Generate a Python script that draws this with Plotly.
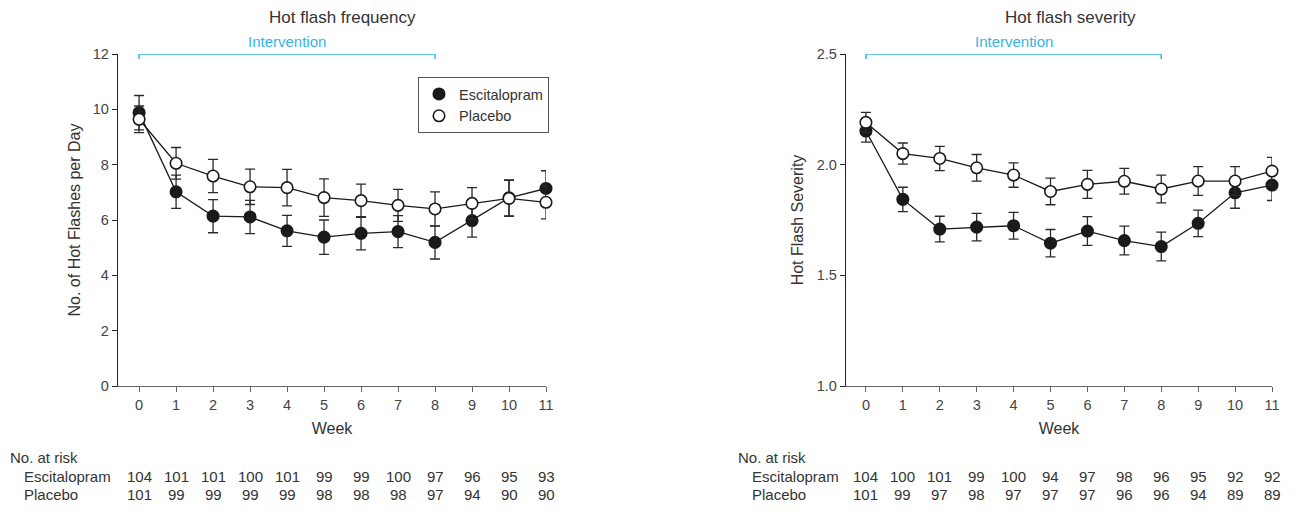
import plotly.graph_objects as go

# ---------------- data ----------------
weeks = list(range(12))
week_labels = [str(w) for w in weeks]

freq_esc = [9.88, 7.02, 6.14, 6.11, 5.61, 5.38, 5.52, 5.58, 5.19, 5.98, 6.80, 7.14]
freq_esc_err = [0.62, 0.60, 0.60, 0.60, 0.56, 0.62, 0.60, 0.58, 0.60, 0.60, 0.65, 0.64]
freq_pla = [9.64, 8.05, 7.59, 7.20, 7.17, 6.81, 6.70, 6.53, 6.40, 6.60, 6.78, 6.64]
freq_pla_err = [0.48, 0.57, 0.60, 0.64, 0.66, 0.68, 0.60, 0.58, 0.62, 0.57, 0.65, 0.60]

sev_esc = [2.152, 1.843, 1.709, 1.718, 1.724, 1.645, 1.700, 1.657, 1.630, 1.735, 1.873, 1.908]
sev_esc_err = [0.050, 0.055, 0.058, 0.062, 0.060, 0.062, 0.065, 0.065, 0.065, 0.060, 0.070, 0.070]
sev_pla = [2.191, 2.050, 2.028, 1.986, 1.953, 1.879, 1.911, 1.925, 1.890, 1.926, 1.926, 1.971]
sev_pla_err = [0.045, 0.048, 0.055, 0.060, 0.055, 0.060, 0.063, 0.058, 0.063, 0.065, 0.065, 0.062]

risk_freq_esc = [104, 101, 101, 100, 101, 99, 99, 100, 97, 96, 95, 93]
risk_freq_pla = [101, 99, 99, 99, 99, 98, 98, 98, 97, 94, 90, 90]
risk_sev_esc = [104, 100, 101, 99, 100, 94, 97, 98, 96, 95, 92, 92]
risk_sev_pla = [101, 99, 97, 98, 97, 97, 97, 96, 96, 94, 89, 89]

intervention = [0, 8]
freq_ticks = [0, 2, 4, 6, 8, 10, 12]
sev_ticks = [1.0, 1.5, 2.0, 2.5]

# ---------------- style ----------------
FONT = "Liberation Sans, Arial, sans-serif"
TXT = "#333333"
BLUE = "#35b5e8"
W, H = 1297, 514

def px_x(p):
    return p / W

def px_y(p):
    return 1 - p / H

fig = go.Figure()

def add_series(x_ax, y_ax, vals, errs, filled):
    fig.add_trace(go.Scatter(
        x=weeks, y=vals, xaxis=x_ax, yaxis=y_ax,
        mode="lines+markers", showlegend=False, cliponaxis=False,
        line=dict(color="#1a1a1a", width=1.3),
        marker=dict(size=11.5, color="#1a1a1a" if filled else "white",
                    line=dict(color="#1a1a1a", width=1.6)),
        error_y=dict(type="data", array=errs, visible=True,
                     color="#2a2a2a", thickness=1.3, width=5),
    ))

add_series("x", "y", freq_esc, freq_esc_err, True)
add_series("x", "y", freq_pla, freq_pla_err, False)
add_series("x2", "y2", sev_esc, sev_esc_err, True)
add_series("x2", "y2", sev_pla, sev_pla_err, False)

# legend-only traces
fig.add_trace(go.Scatter(x=[None], y=[None], mode="markers", name="Escitalopram",
                         marker=dict(size=11.5, color="#1a1a1a", line=dict(color="#1a1a1a", width=1.6))))
fig.add_trace(go.Scatter(x=[None], y=[None], mode="markers", name="Placebo",
                         marker=dict(size=11.5, color="white", line=dict(color="#1a1a1a", width=1.6))))

axis_common = dict(showgrid=False, zeroline=False, ticks="outside", ticklen=5,
                   tickwidth=1, tickfont=dict(size=14.5, color="#444", family=FONT),
                   showline=True, linewidth=1.3, automargin=False)

fig.update_layout(
    width=W, height=H, autosize=False,
    margin=dict(l=0, r=0, t=0, b=0, pad=0, autoexpand=False),
    paper_bgcolor="white", plot_bgcolor="white",
    font=dict(family=FONT, color=TXT, size=15),
    xaxis=dict(domain=[px_x(118), px_x(546)], range=[-0.57, 11], tickvals=weeks,
               ticktext=week_labels, linecolor="#666", tickcolor="#666",
               title=dict(text="Week", font=dict(size=16, color=TXT), standoff=11),
               anchor="y", **axis_common),
    yaxis=dict(domain=[px_y(386), px_y(54)], range=[0, 12], tickvals=freq_ticks,
               linecolor="#222", tickcolor="#222",
               title=dict(text="No. of Hot Flashes per Day", font=dict(size=16, color=TXT), standoff=8),
               anchor="x", **axis_common),
    xaxis2=dict(domain=[px_x(846), px_x(1272)], range=[-0.54, 11], tickvals=weeks,
                ticktext=week_labels, linecolor="#666", tickcolor="#666",
                title=dict(text="Week", font=dict(size=16, color=TXT), standoff=11),
                anchor="y2", **axis_common),
    yaxis2=dict(domain=[px_y(386), px_y(54)], range=[1.0, 2.5], tickvals=sev_ticks,
                tickformat=".1f", linecolor="#222", tickcolor="#222",
                title=dict(text="Hot Flash Severity", font=dict(size=16, color=TXT), standoff=9),
                anchor="x2", **axis_common),
    legend=dict(x=px_x(418), y=px_y(77), xanchor="left", yanchor="top",
                bordercolor="#555", borderwidth=1, bgcolor="white",
                font=dict(size=14.5, color=TXT, family=FONT),
                itemwidth=30, tracegroupgap=0),
)

# titles
fig.add_annotation(text="Hot flash frequency", xref="paper", yref="paper",
                   x=px_x(342), y=px_y(18), showarrow=False,
                   font=dict(size=17, color=TXT), xanchor="center", yanchor="middle")
fig.add_annotation(text="Hot flash severity", xref="paper", yref="paper",
                   x=px_x(1070), y=px_y(18), showarrow=False,
                   font=dict(size=17, color=TXT), xanchor="center", yanchor="middle")

# intervention bars
for xa, ya, ytop in (("x", "y", freq_ticks[-1]), ("x2", "y2", sev_ticks[-1])):
    fig.add_shape(type="line", xref=xa, yref=ya, x0=intervention[0], x1=intervention[1],
                  y0=ytop, y1=ytop, line=dict(color=BLUE, width=1.5))
    for xv in intervention:
        fig.add_shape(type="line", xref=xa, yref=ya, x0=xv, x1=xv, y0=-5, y1=5,
                      ysizemode="pixel", yanchor=ytop,
                      line=dict(color=BLUE, width=1.5))
    fig.add_annotation(text="Intervention", xref=xa, yref=ya,
                       x=sum(intervention) / 2, y=ytop, yshift=12, showarrow=False,
                       font=dict(size=15, color=BLUE), xanchor="center", yanchor="middle")

# number at risk tables
for xa, left_px, esc_r, pla_r in (("x", 8, risk_freq_esc, risk_freq_pla),
                                  ("x2", 736, risk_sev_esc, risk_sev_pla)):
    fig.add_annotation(text="No. at risk", xref="paper", yref="paper",
                       x=px_x(left_px), y=px_y(457), showarrow=False,
                       xanchor="left", yanchor="middle", font=dict(size=15, color=TXT))
    fig.add_annotation(text="Escitalopram", xref="paper", yref="paper",
                       x=px_x(left_px + 14), y=px_y(476), showarrow=False,
                       xanchor="left", yanchor="middle", font=dict(size=15, color=TXT))
    fig.add_annotation(text="Placebo", xref="paper", yref="paper",
                       x=px_x(left_px + 14), y=px_y(494), showarrow=False,
                       xanchor="left", yanchor="middle", font=dict(size=15, color=TXT))
    for w, a, b in zip(weeks, esc_r, pla_r):
        fig.add_annotation(text=str(a), xref=xa, yref="paper", x=w, y=px_y(476),
                           showarrow=False, xanchor="center", yanchor="middle",
                           font=dict(size=15, color=TXT))
        fig.add_annotation(text=str(b), xref=xa, yref="paper", x=w, y=px_y(494),
                           showarrow=False, xanchor="center", yanchor="middle",
                           font=dict(size=15, color=TXT))

fig.write_html(
    "out.html",
    config={"displayModeBar": False},
    post_script="document.body.style.margin='0';document.body.style.overflow='hidden';"
                "document.documentElement.style.overflow='hidden';",
)
